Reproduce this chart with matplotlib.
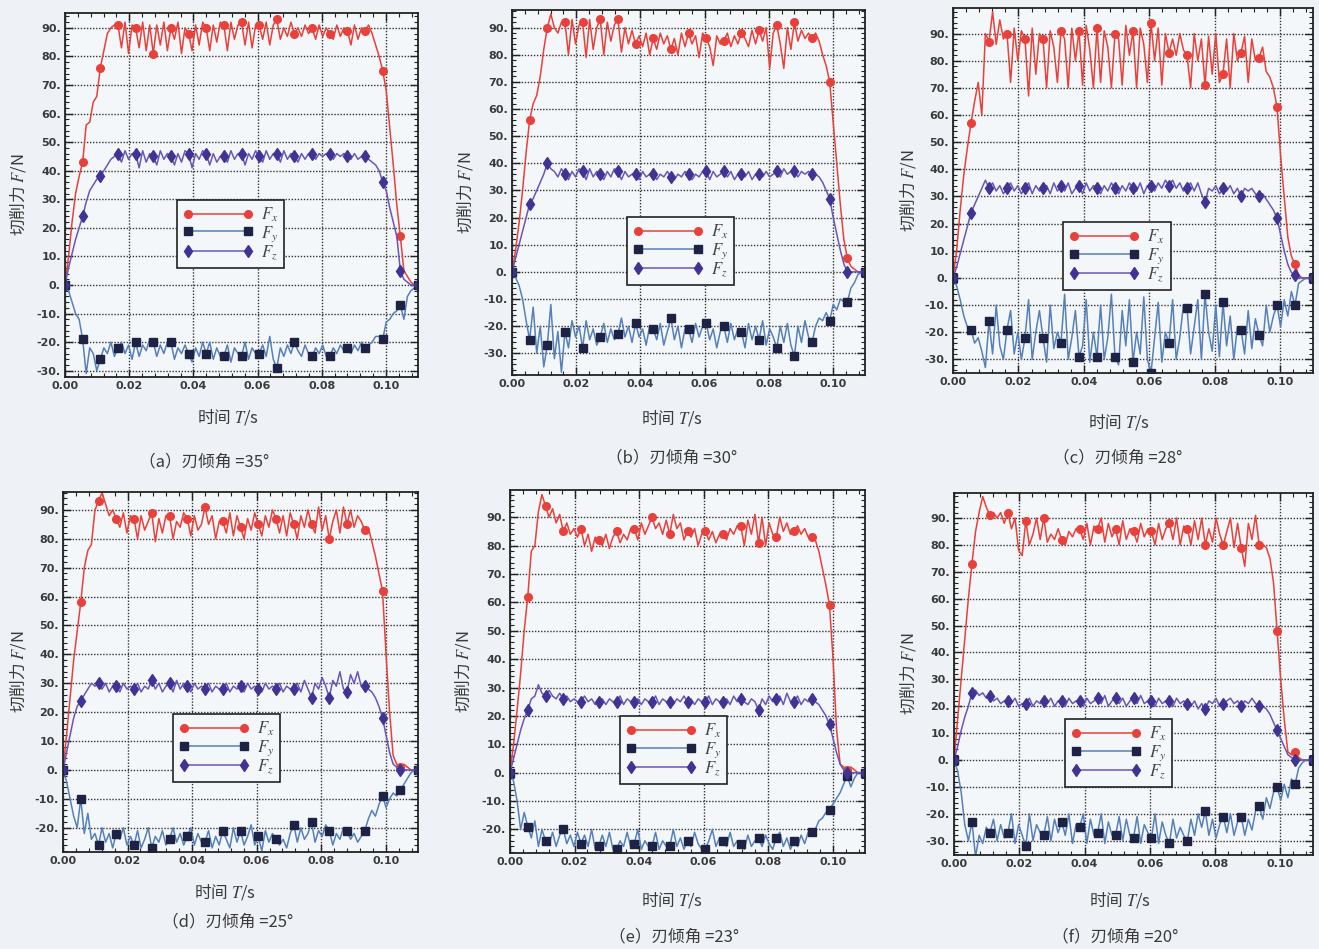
import numpy as np
import matplotlib
matplotlib.use('Agg')
import matplotlib.pyplot as plt
from matplotlib.ticker import MultipleLocator, FormatStrFormatter

plt.rcParams['font.family'] = ['Noto Sans CJK SC', 'DejaVu Sans']
plt.rcParams['mathtext.fontset'] = 'stix'
plt.rcParams['axes.unicode_minus'] = False

# sampling: 101 points over 0 ... 0.11 s, a marker every 5th point
T_STEP = 0.0011
t = np.arange(101) * T_STEP

angles = [35, 30, 28, 25, 23, 20]
tags = ['a', 'b', 'c', 'd', 'e', 'f']

# ---- (a) 35 deg ----
fx_35 = [0, 10, 22, 32, 38, 43, 56, 57, 64, 66, 76, 82, 88, 90, 91, 91, 83, 92, 81, 91,
         90, 83, 92, 82, 91, 81, 91, 84, 92, 82, 90, 86, 92, 81, 90, 88, 82, 91, 84, 92,
         90, 82, 91, 85, 92, 91, 82, 92, 86, 91, 92, 84, 92, 83, 91, 91, 86, 92, 84, 91,
         93, 86, 90, 87, 92, 88, 90, 87, 91, 88, 90, 86, 91, 87, 90, 88, 86, 91, 87, 90,
         89, 84, 91, 86, 90, 89, 91, 88, 84, 80, 75, 68, 55, 42, 28, 17, 5, 3, 1, 0, 0]
fy_35 = [0, -2, -6, -10, -12, -19, -31, -22, -24, -30, -26, -22, -24, -20, -25, -22, -20, -24, -21, -26,
         -20, -25, -21, -23, -19, -20, -25, -21, -24, -20, -20, -26, -22, -24, -21, -24, -27, -22, -25, -20,
         -24, -20, -26, -22, -25, -25, -21, -27, -22, -24, -25, -20, -26, -22, -24, -24, -21, -25, -18, -26,
         -29, -22, -25, -21, -24, -20, -23, -25, -21, -24, -25, -22, -24, -21, -25, -25, -22, -24, -21, -23,
         -22, -24, -21, -23, -20, -22, -21, -20, -18, -18, -19, -13, -12, -10, -9, -7, -12, -4, -2, -1, 0]
fz_35 = [0, 6, 11, 16, 20, 24, 29, 33, 35, 37, 38, 40, 42, 44, 45, 46, 43, 47, 44, 46,
         46, 41, 47, 43, 46, 45, 42, 47, 44, 46, 45, 42, 46, 43, 47, 46, 41, 46, 44, 47,
         46, 42, 46, 43, 45, 45, 43, 47, 44, 46, 46, 42, 46, 44, 47, 45, 43, 47, 44, 46,
         46, 43, 47, 44, 46, 45, 43, 46, 44, 46, 46, 44, 46, 45, 46, 46, 44, 46, 45, 46,
         45, 44, 46, 44, 45, 45, 44, 43, 42, 40, 36, 33, 27, 22, 17, 5, 2, 1, 0, 0, 0]

# ---- (b) 30 deg ----
fx_30 = [0, 8, 18, 30, 44, 56, 62, 65, 72, 82, 90, 95, 90, 88, 92, 92, 80, 93, 84, 91,
         92, 79, 93, 82, 90, 93, 80, 92, 85, 91, 93, 81, 90, 84, 89, 84, 87, 83, 88, 80,
         86, 82, 88, 84, 87, 82, 86, 80, 88, 83, 88, 84, 87, 79, 88, 86, 83, 76, 87, 84,
         85, 88, 83, 87, 84, 88, 86, 83, 89, 84, 89, 85, 90, 75, 88, 91, 84, 75, 90, 82,
         92, 85, 89, 86, 88, 86, 88, 85, 80, 76, 70, 55, 40, 25, 12, 5, 2, 1, 0, 0, 0]
fy_30 = [0, -2, -5, -10, -18, -25, -13, -30, -20, -35, -27, -12, -32, -22, -37, -22, -28, -18, -24, -20,
         -28, -18, -25, -21, -27, -24, -19, -26, -21, -25, -23, -17, -24, -20, -26, -19, -24, -21, -27, -20,
         -21, -25, -19, -27, -22, -17, -25, -20, -28, -21, -21, -26, -19, -24, -20, -19, -25, -21, -28, -22,
         -20, -26, -19, -25, -21, -22, -28, -19, -25, -20, -25, -18, -27, -21, -24, -28, -20, -26, -19, -27,
         -31, -20, -26, -18, -24, -26, -20, -17, -18, -15, -18, -12, -14, -10, -11, -11, -6, -4, -1, 0, 0]
fz_30 = [0, 5, 10, 15, 20, 25, 27, 30, 33, 36, 40, 38, 37, 35, 38, 36, 34, 37, 35, 38,
         37, 34, 38, 35, 37, 36, 34, 37, 35, 38, 37, 34, 37, 35, 36, 36, 34, 37, 35, 36,
         36, 34, 36, 35, 37, 35, 34, 36, 35, 37, 36, 34, 36, 35, 37, 37, 34, 37, 35, 36,
         37, 35, 37, 34, 36, 36, 35, 37, 34, 36, 36, 35, 37, 35, 36, 37, 35, 38, 36, 37,
         37, 35, 37, 36, 37, 36, 36, 35, 33, 30, 27, 20, 14, 8, 3, 0, 0, 0, 0, 0, 0]

# ---- (c) 28 deg ----
fx_28 = [0, 10, 25, 38, 48, 57, 65, 72, 60, 90, 87, 98, 86, 95, 88, 90, 72, 92, 80, 91,
         88, 67, 92, 75, 90, 88, 70, 91, 85, 72, 91, 88, 70, 92, 80, 91, 71, 93, 84, 70,
         92, 72, 91, 85, 70, 90, 88, 71, 93, 82, 91, 70, 92, 86, 72, 94, 80, 92, 71, 90,
         83, 88, 82, 90, 84, 82, 70, 90, 80, 88, 71, 89, 75, 90, 72, 75, 88, 70, 90, 80,
         83, 89, 72, 88, 80, 81, 85, 76, 74, 70, 63, 45, 30, 15, 8, 5, 1, 0, 0, 0, 0]
fy_28 = [0, -3, -8, -14, -18, -19, -24, -22, -27, -33, -16, -28, -10, -25, -30, -19, -12, -28, -20, -30,
         -22, -8, -30, -20, -12, -22, -31, -10, -26, -20, -24, -6, -30, -22, -12, -29, -25, -8, -31, -20,
         -29, -10, -30, -22, -6, -29, -32, -12, -25, -8, -31, -20, -28, -7, -30, -35, -22, -9, -31, -20,
         -24, -8, -30, -22, -10, -11, -28, -18, -8, -30, -6, -20, -27, -10, -29, -9, -25, -14, -30, -18,
         -19, -28, -12, -26, -15, -21, -25, -10, -20, -14, -10, -18, -8, -14, -5, -10, -2, -1, 0, 0, 0]
fz_28 = [0, 4, 9, 14, 19, 24, 27, 30, 33, 36, 33, 35, 32, 34, 31, 33, 35, 32, 34, 31,
         33, 35, 31, 34, 32, 33, 34, 31, 35, 32, 34, 32, 35, 31, 33, 34, 31, 35, 32, 34,
         33, 31, 34, 32, 35, 33, 31, 34, 32, 35, 33, 32, 35, 31, 34, 34, 32, 35, 33, 36,
         34, 36, 33, 35, 32, 33, 35, 32, 35, 31, 28, 33, 32, 34, 31, 33, 32, 34, 31, 33,
         30, 33, 32, 33, 31, 30, 31, 29, 27, 25, 22, 16, 10, 5, 2, 1, 0, 0, 0, 0, 0]

# ---- (d) 25 deg ----
fx_25 = [0, 12, 25, 38, 48, 58, 70, 76, 78, 90, 93, 96, 92, 88, 90, 87, 84, 89, 82, 88,
         87, 80, 88, 83, 86, 89, 79, 87, 82, 88, 88, 80, 86, 84, 89, 87, 81, 88, 83, 85,
         91, 85, 88, 80, 86, 86, 82, 89, 81, 88, 84, 80, 87, 83, 89, 85, 81, 88, 84, 90,
         87, 82, 88, 81, 89, 85, 80, 88, 84, 90, 85, 82, 91, 83, 88, 80, 86, 90, 82, 91,
         85, 90, 84, 88, 86, 83, 84, 79, 74, 68, 62, 40, 20, 5, 2, 1, 2, 1, 0, 0, 0]
fy_25 = [0, -4, -10, -16, -20, -10, -22, -15, -24, -22, -26, -20, -25, -22, -27, -22, -24, -20, -26, -23,
         -26, -21, -27, -24, -20, -27, -23, -25, -21, -26, -24, -20, -25, -22, -26, -23, -20, -26, -22, -25,
         -25, -21, -27, -23, -26, -21, -24, -27, -20, -25, -21, -26, -23, -19, -26, -23, -28, -21, -25, -22,
         -24, -26, -24, -27, -22, -19, -25, -20, -24, -22, -18, -25, -21, -23, -19, -21, -26, -22, -24, -20,
         -21, -24, -22, -25, -23, -21, -17, -14, -16, -12, -9, -13, -10, -8, -9, -7, -5, -3, -1, 0, 0]
fz_25 = [0, 6, 12, 18, 22, 24, 26, 28, 30, 29, 30, 28, 30, 27, 29, 29, 27, 30, 28, 29,
         28, 30, 27, 29, 28, 31, 28, 30, 27, 29, 30, 27, 31, 28, 30, 29, 27, 30, 28, 29,
         28, 30, 27, 29, 28, 28, 30, 27, 29, 28, 29, 27, 30, 28, 29, 28, 27, 30, 28, 29,
         28, 30, 27, 29, 28, 28, 30, 27, 31, 28, 25, 30, 28, 32, 29, 25, 31, 29, 34, 28,
         27, 33, 30, 34, 29, 29, 28, 27, 25, 22, 18, 12, 6, 2, 1, 0, 0, 0, 0, 0, 0]

# ---- (e) 23 deg ----
fx_23 = [0, 10, 22, 35, 50, 62, 78, 80, 92, 98, 94, 90, 93, 88, 91, 85, 88, 84, 86, 83,
         86, 80, 84, 78, 83, 82, 80, 84, 79, 83, 85, 81, 84, 82, 86, 86, 82, 88, 84, 87,
         90, 86, 88, 84, 89, 84, 91, 86, 88, 82, 85, 83, 86, 80, 84, 85, 82, 85, 81, 84,
         84, 82, 86, 84, 87, 87, 80, 89, 84, 91, 81, 90, 80, 88, 84, 83, 90, 85, 88, 84,
         85, 87, 84, 86, 83, 83, 82, 78, 72, 66, 59, 40, 15, 3, 2, 1, 2, 1, 0, 0, 0]
fy_23 = [0, -3, -10, -20, -14, -19, -23, -17, -26, -20, -24, -25, -21, -26, -22, -20, -25, -22, -26, -21,
         -25, -22, -26, -20, -27, -26, -22, -26, -21, -27, -27, -24, -26, -21, -26, -25, -20, -27, -24, -26,
         -26, -21, -27, -24, -26, -26, -20, -26, -23, -27, -24, -26, -21, -25, -27, -27, -24, -20, -26, -23,
         -24, -26, -21, -26, -24, -25, -27, -22, -26, -24, -23, -26, -22, -25, -27, -23, -21, -26, -23, -27,
         -24, -26, -22, -25, -21, -21, -20, -17, -16, -14, -13, -11, -9, -7, -4, -1, -5, -2, 0, 0, 0]
fz_23 = [0, 5, 10, 15, 19, 22, 26, 27, 31, 28, 27, 29, 27, 26, 28, 26, 27, 25, 26, 25,
         25, 27, 25, 26, 24, 25, 26, 24, 26, 25, 25, 27, 24, 26, 25, 25, 26, 24, 26, 25,
         25, 27, 24, 26, 25, 25, 24, 26, 25, 27, 25, 26, 24, 26, 25, 25, 27, 24, 26, 25,
         25, 26, 24, 27, 25, 26, 25, 24, 26, 25, 22, 26, 24, 27, 25, 26, 27, 24, 28, 25,
         25, 27, 24, 26, 25, 26, 25, 24, 22, 20, 17, 12, 7, 3, 1, 0, 0, 0, 0, 0, 0]

# ---- (f) 20 deg ----
fx_20 = [0, 15, 30, 45, 60, 73, 85, 92, 98, 94, 91, 92, 90, 92, 88, 92, 86, 90, 78, 76,
         89, 80, 84, 90, 82, 90, 81, 84, 82, 86, 82, 80, 85, 83, 86, 86, 82, 88, 80, 87,
         86, 90, 81, 88, 83, 86, 80, 89, 82, 86, 85, 81, 88, 83, 86, 85, 80, 88, 82, 86,
         88, 82, 90, 80, 87, 86, 80, 89, 82, 90, 80, 86, 81, 90, 84, 80, 85, 90, 79, 88,
         79, 72, 88, 82, 91, 80, 80, 79, 75, 66, 48, 30, 15, 3, 2, 3, 1, 0, 0, 0, 0]
fy_20 = [0, -4, -12, -24, -30, -23, -36, -28, -31, -25, -27, -22, -30, -24, -29, -27, -20, -31, -24, -28,
         -32, -20, -30, -24, -27, -28, -21, -30, -22, -27, -23, -28, -20, -31, -24, -25, -20, -31, -22, -28,
         -27, -20, -31, -23, -28, -28, -21, -30, -22, -28, -29, -21, -31, -24, -27, -29, -20, -31, -23, -28,
         -31, -22, -29, -25, -28, -30, -22, -28, -20, -25, -19, -28, -22, -29, -24, -21, -27, -20, -28, -23,
         -21, -28, -22, -26, -19, -17, -22, -14, -18, -12, -10, -15, -9, -14, -7, -9, -3, -1, 0, 0, 0]
fz_20 = [0, 5, 11, 16, 20, 25, 26, 24, 25, 23, 24, 22, 23, 21, 22, 22, 21, 23, 20, 21,
         21, 23, 20, 22, 21, 22, 21, 23, 20, 22, 22, 20, 23, 21, 22, 22, 20, 23, 21, 22,
         23, 21, 24, 20, 22, 23, 21, 23, 20, 22, 23, 21, 24, 21, 22, 22, 20, 23, 21, 22,
         22, 20, 23, 21, 22, 21, 20, 22, 19, 21, 19, 22, 21, 23, 20, 21, 22, 23, 21, 22,
         20, 22, 21, 23, 21, 20, 20, 19, 17, 14, 11, 8, 5, 2, 1, 0, 0, 0, 0, 0, 0]

fx_all = [fx_35, fx_30, fx_28, fx_25, fx_23, fx_20]
fy_all = [fy_35, fy_30, fy_28, fy_25, fy_23, fy_20]
fz_all = [fz_35, fz_30, fz_28, fz_25, fz_23, fz_20]

# layout, in pixels of the 1319x949 picture: left, top, right, bottom of each axes
W, H = 1319, 949
boxes = [(65, 13, 418, 377), (512, 10, 865, 375), (953, 8, 1313, 373),
         (63, 492, 418, 852), (510, 490, 865, 853), (954, 493, 1313, 855)]
ylims = [(-32.2, 95.2), (-38, 96.5), (-35, 99.4), (-28.4, 96.2), (-28.3, 99.6), (-35.3, 99.3)]
leg_pos = [(0.317, 0.30), (0.326, 0.247), (0.306, 0.227), (0.31, 0.194), (0.31, 0.19), (0.309, 0.188)]
xlab_pos = [(228, 417), (672, 418), (1119, 422), (225, 892), (672, 900), (1120, 900)]
cap_pos = [(204, 462), (672, 458), (1118, 458), (228, 922), (674, 937), (1115, 937)]
ylab_x = [18, 465, 908, 18, 463, 908]

RED = '#e8403a'
FY_LINE, FY_MARK = '#5580b8', '#1e2346'
FZ_LINE, FZ_MARK = '#6b55b8', '#3f3494'
BG = '#eef2f6'
TXT = '#3a3a3a'

fig = plt.figure(figsize=(W / 100, H / 100), dpi=100)
fig.patch.set_facecolor(BG)

for i in range(6):
    l, tp, r, b = boxes[i]
    ax = fig.add_axes([l / W, 1 - b / H, (r - l) / W, (b - tp) / H])
    ax.set_facecolor('#f4f7fa')

    h_fx, = ax.plot(t, fx_all[i], color=RED, lw=1.1, marker='o', ms=5.5,
                    markevery=5, mfc=RED, mec=RED, label='$F_x$')
    h_fy, = ax.plot(t, fy_all[i], color=FY_LINE, lw=1.1, marker='s', ms=5.5,
                    markevery=5, mfc=FY_MARK, mec=FY_MARK, label='$F_y$')
    h_fz, = ax.plot(t, fz_all[i], color=FZ_LINE, lw=1.1, marker='d', ms=6.5,
                    markevery=5, mfc=FZ_MARK, mec=FZ_MARK, label='$F_z$')

    ax.set_xlim(0, 0.11)
    ax.set_ylim(*ylims[i])
    ax.xaxis.set_major_locator(MultipleLocator(0.02))
    ax.xaxis.set_minor_locator(MultipleLocator(0.004))
    ax.yaxis.set_major_locator(MultipleLocator(10))
    ax.yaxis.set_minor_locator(MultipleLocator(2))
    ax.xaxis.set_major_formatter(FormatStrFormatter('%.2f'))
    ax.yaxis.set_major_formatter(FormatStrFormatter('%d.'))
    ax.tick_params(which='both', direction='in', top=True, right=True, colors='#222222')
    ax.tick_params(which='major', length=6, width=1.0, labelsize=8, labelcolor=TXT, pad=3)
    ax.tick_params(which='minor', length=3, width=0.8)
    for lab in ax.get_xticklabels() + ax.get_yticklabels():
        lab.set_fontweight('bold')
        lab.set_family('DejaVu Sans')
    for s in ax.spines.values():
        s.set_linewidth(1.3)
        s.set_color('#222222')
    ax.grid(True, which='major', color='#333333', linestyle=(0, (1, 1.2)), linewidth=1.0)
    ax.set_axisbelow(True)

    leg = ax.legend(handles=[h_fx, h_fy, h_fz], loc='lower left',
                    bbox_to_anchor=leg_pos[i], borderaxespad=0, numpoints=2,
                    handlelength=4.2, handletextpad=0.5, fontsize=12,
                    labelspacing=0.0, borderpad=0.35, fancybox=False,
                    framealpha=1, edgecolor='#222222', facecolor='#f4f7fa')
    leg.get_frame().set_linewidth(1.2)
    for txt in leg.get_texts():
        txt.set_color('#444444')

    fig.text(xlab_pos[i][0] / W, 1 - xlab_pos[i][1] / H, '时间 $T$/s', ha='center', va='center',
             fontsize=12, color=TXT)
    fig.text(cap_pos[i][0] / W, 1 - cap_pos[i][1] / H,
             '（' + tags[i] + '）刃倾角 =' + str(angles[i]) + '°', ha='center', va='center',
             fontsize=12, color=TXT)
    fig.text(ylab_x[i] / W, 1 - (tp + b) / 2 / H, '切削力 $F$/N', ha='center', va='center',
             rotation=90, fontsize=12, color=TXT)

fig.savefig('out.png', dpi=100, facecolor=fig.get_facecolor())
